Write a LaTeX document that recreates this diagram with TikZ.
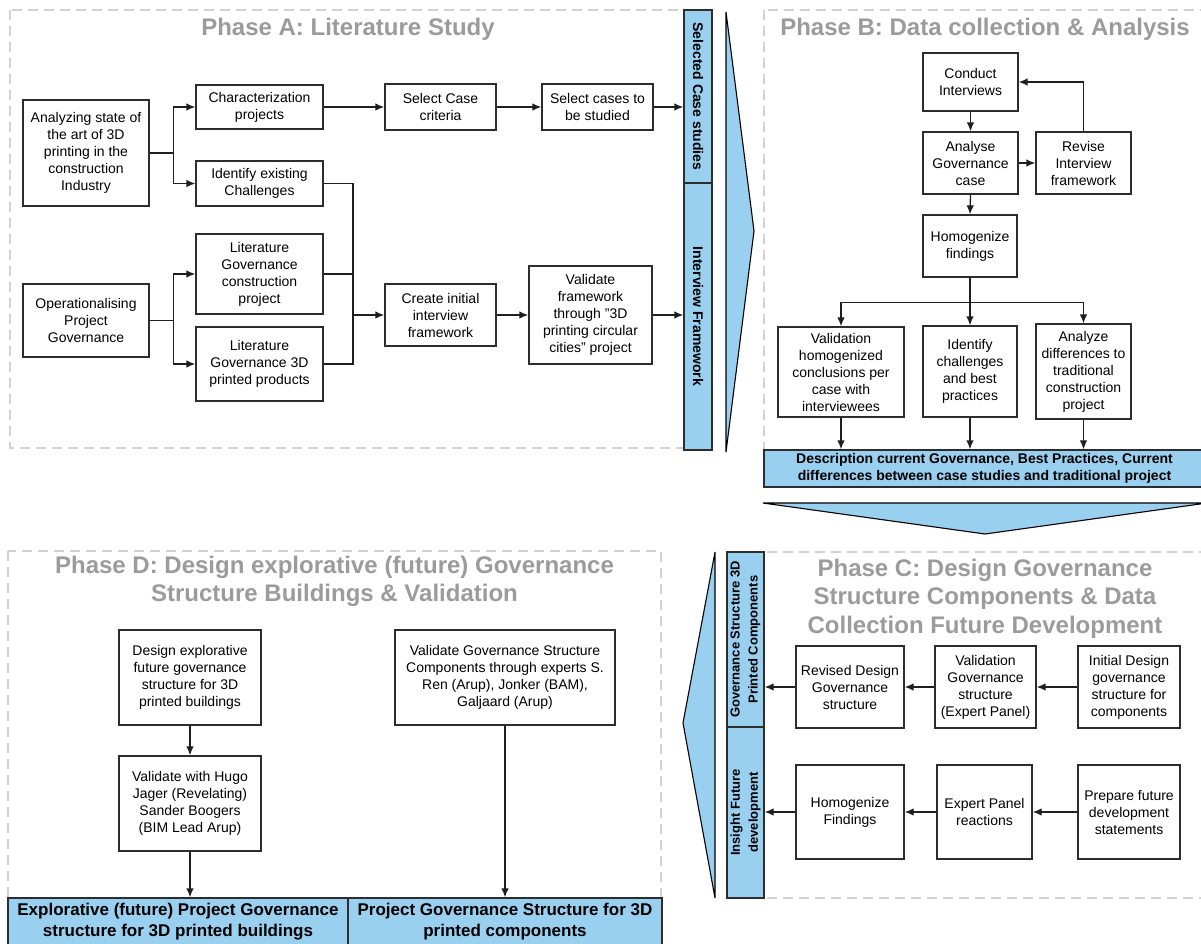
\documentclass[tikz,border=0pt]{standalone}
\usepackage{fontspec}
\setmainfont{Liberation Sans}
\usetikzlibrary{arrows.meta}
\definecolor{barblue}{RGB}{153,208,240}
\definecolor{titlegray}{RGB}{155,155,155}
\definecolor{edgegray}{RGB}{45,45,45}
\definecolor{dashgray}{RGB}{210,210,210}

% box given by its corners: name, x1, y1, x2, y2, text
\newcommand\flowbox[6]{%
  \node[box, minimum width={(#4-#2)*1pt}, minimum height={(#5-#3)*1pt}]
    (#1) at ({(#2+#4)/2},{(#3+#5)/2}) {#6};}
% straight double quote
\newcommand\sq{\symbol{34}}

\begin{document}
\begin{tikzpicture}[x=1pt,y=-1pt,
  box/.style={draw=edgegray, line width=1.3pt, fill=white, inner sep=0pt,
    align=center, font=\fontsize{14}{17}\selectfont},
  bar/.style={draw=edgegray, line width=1.3pt, fill=barblue, inner sep=0pt,
    align=center, font=\bfseries\fontsize{14}{17}\selectfont},
  arr/.style={draw=black!88, line width=1.3pt, -{Latex[length=9pt,width=7.5pt]}},
  link/.style={draw=black!88, line width=1.3pt},
  phase/.style={draw=dashgray, line width=1.4pt, dash pattern=on 10pt off 6pt},
  title/.style={text=titlegray, font=\bfseries\fontsize{24}{28.5}\selectfont,
    inner sep=0pt, align=center},
  chevron/.style={fill=barblue, draw=black, line width=1.1pt, line join=miter}
]
\useasboundingbox (0,0) rectangle (1201,943);

% ---------- phase frames ----------
\draw[phase] (10,10) rectangle (698,448);
\draw[phase] (764,10) rectangle (1215,470);
\draw[phase] (745,552) rectangle (1215,898);
\draw[phase] (8,551) rectangle (661,910);

% ---------- chevrons between phases ----------
\draw[chevron] (726,12) -- (754,231) -- (726,452) -- cycle;
\draw[chevron] (763,503) -- (1207,503) -- (985,534) -- cycle;
\draw[chevron] (715,552) -- (683,723) -- (715,898) -- cycle;

% ---------- titles ----------
\node[title, anchor=base] (tA) at (348,35) {Phase A: Literature Study};
\node[title, anchor=base] (tB) at (985,35) {Phase B: Data collection \& Analysis};
\node[title, anchor=north] (tC) at (985,558.5)
  {Phase C: Design Governance\\Structure Components \& Data\\Collection Future Development};
\node[title, anchor=north] (tD) at (334.5,555.5)
  {Phase D: Design explorative (future) Governance\\Structure Buildings \& Validation};

% ---------- Phase A ----------
\flowbox{an}{23}{100}{149}{206}{Analyzing state of\\the art of 3D\\printing in the\\construction\\Industry}
\flowbox{ch}{196}{85}{323}{129}{Characterization\\projects}
\flowbox{id}{196}{161}{323}{206}{Identify existing\\Challenges}
\flowbox{lgc}{196}{234}{323}{314}{Literature\\Governance\\construction\\project}
\flowbox{lg3}{196}{327}{323}{401}{Literature\\Governance 3D\\printed products}
\flowbox{op}{23}{284}{149}{357}{Operationalising\\Project\\Governance}
\flowbox{sc}{385}{84}{496}{130}{Select Case\\criteria}
\flowbox{ss}{542}{84}{653}{130}{Select cases to\\be studied}
\flowbox{ci}{385}{284}{496}{346}{Create initial\\interview\\framework}
\flowbox{vf}{529}{266}{652}{364}{Validate\\framework\\through \sq3D\\printing circular\\cities\sq{} project}

\node[bar, rotate=-90, minimum width=173pt, minimum height=28pt] (sel) at (698,96.5) {Selected Case studies};
\node[bar, rotate=-90, minimum width=267pt, minimum height=28pt] (ivf) at (698,316.5) {Interview Framework};

\draw[arr] (an.east) -- ++(24,0) |- (ch.west);
\draw[arr] (an.east) -- ++(24,0) |- (id.west);
\draw[arr] (op.east) -- ++(24,0) |- (lgc.west);
\draw[arr] (op.east) -- ++(24,0) |- (lg3.west);
\coordinate (mA) at (353,315);
\draw[link] (id.east) -| (mA);
\draw[link] (lg3.east) -| (mA);
\draw[link] (lgc.east) -- (lgc.east -| mA);
\draw[arr] (mA) -- (ci.west);
\draw[arr] (ch.east) -- (sc.west);
\draw[arr] (sc.east) -- (ss.west);
\draw[arr] (ss.east) -- (ss.east -| sel.south);
\draw[arr] (ci.east) -- (vf.west);
\draw[arr] (vf.east) -- (vf.east -| ivf.south);

% ---------- Phase B ----------
\flowbox{cond}{923}{53}{1018}{111}{Conduct\\Interviews}
\flowbox{ana}{923}{132}{1018}{194}{Analyse\\Governance\\case}
\flowbox{rev}{1036}{132}{1131}{194}{Revise\\Interview\\framework}
\flowbox{hom}{923}{215}{1017}{277}{Homogenize\\findings}
\flowbox{v1}{778}{327}{904}{417}{Validation\\homogenized\\conclusions per\\case with\\interviewees}
\flowbox{ic}{923}{326}{1017}{417}{Identify\\challenges\\and best\\practices}
\flowbox{ad}{1036}{324}{1131}{419}{Analyze\\differences to\\traditional\\construction\\project}

\node[bar, minimum width=441pt, minimum height=37pt] (desc) at (984.5,468.5)
  {Description current Governance, Best Practices, Current\\differences between case studies and traditional project};

\draw[arr] (cond.south) -- (ana.north);
\draw[arr] (ana.east) -- (rev.west);
\draw[arr] (rev.north) |- (cond.east);
\draw[arr] (ana.south) -- (hom.north);
\draw[arr] (hom.south) -- ++(0,25) -| (v1.north);
\draw[arr] (hom.south) -- (ic.north);
\draw[arr] (hom.south) -- ++(0,25) -| (ad.north);
\draw[arr] (v1.south) -- (v1.south |- desc.north);
\draw[arr] (ic.south) -- (ic.south |- desc.north);
\draw[arr] (ad.south) -- (ad.south |- desc.north);

% ---------- Phase C ----------
\flowbox{rd}{796}{646}{904}{728}{Revised Design\\Governance\\structure}
\flowbox{vx}{935}{646}{1036}{728}{Validation\\Governance\\structure\\(Expert Panel)}
\flowbox{idg}{1078}{646}{1180}{728}{Initial Design\\governance\\structure for\\components}
\flowbox{hf}{796}{765}{904}{859}{Homogenize\\Findings}
\flowbox{ep}{937}{765}{1032}{859}{Expert Panel\\reactions}
\flowbox{pf}{1078}{765}{1180}{859}{Prepare future\\development\\statements}

\node[bar, rotate=90, minimum width=175pt, minimum height=37pt,
  font=\bfseries\fontsize{13}{18}\selectfont] (gs) at (745.5,639.5)
  {Governance Structure 3D\\Printed Components};
\node[bar, rotate=90, minimum width=171pt, minimum height=37pt,
  font=\bfseries\fontsize{13}{18}\selectfont] (ins) at (745.5,812.5)
  {Insight Future\\development};

\draw[arr] (idg.west) -- (idg.west -| vx.east);
\draw[arr] (vx.west) -- (vx.west -| rd.east);
\draw[arr] (rd.west) -- (rd.west -| gs.south);
\draw[arr] (pf.west) -- (pf.west -| ep.east);
\draw[arr] (ep.west) -- (ep.west -| hf.east);
\draw[arr] (hf.west) -- (hf.west -| ins.south);

% ---------- Phase D ----------
\flowbox{de}{119}{630}{261}{725}{Design explorative\\future governance\\structure for 3D\\printed buildings}
\flowbox{vh}{119}{756}{261}{851}{Validate with Hugo\\Jager (Revelating)\\Sander Boogers\\(BIM Lead Arup)}
\flowbox{vg}{395}{630}{615}{725}{Validate Governance Structure\\Components through experts S.\\Ren (Arup), Jonker (BAM),\\Galjaard (Arup)}

\node[bar, minimum width=340pt, minimum height=48pt,
  font=\bfseries\fontsize{17}{21}\selectfont] (outB) at (178,922)
  {Explorative (future) Project Governance\\structure for 3D printed buildings};
\node[bar, minimum width=314pt, minimum height=48pt,
  font=\bfseries\fontsize{17}{21}\selectfont] (outC) at (505,922)
  {Project Governance Structure for 3D\\printed components};

\draw[arr] (de.south) -- (vh.north);
\draw[arr] (vh.south) -- (vh.south |- outB.north);
\draw[arr] (vg.south) -- (vg.south |- outC.north);

\end{tikzpicture}
\end{document}
